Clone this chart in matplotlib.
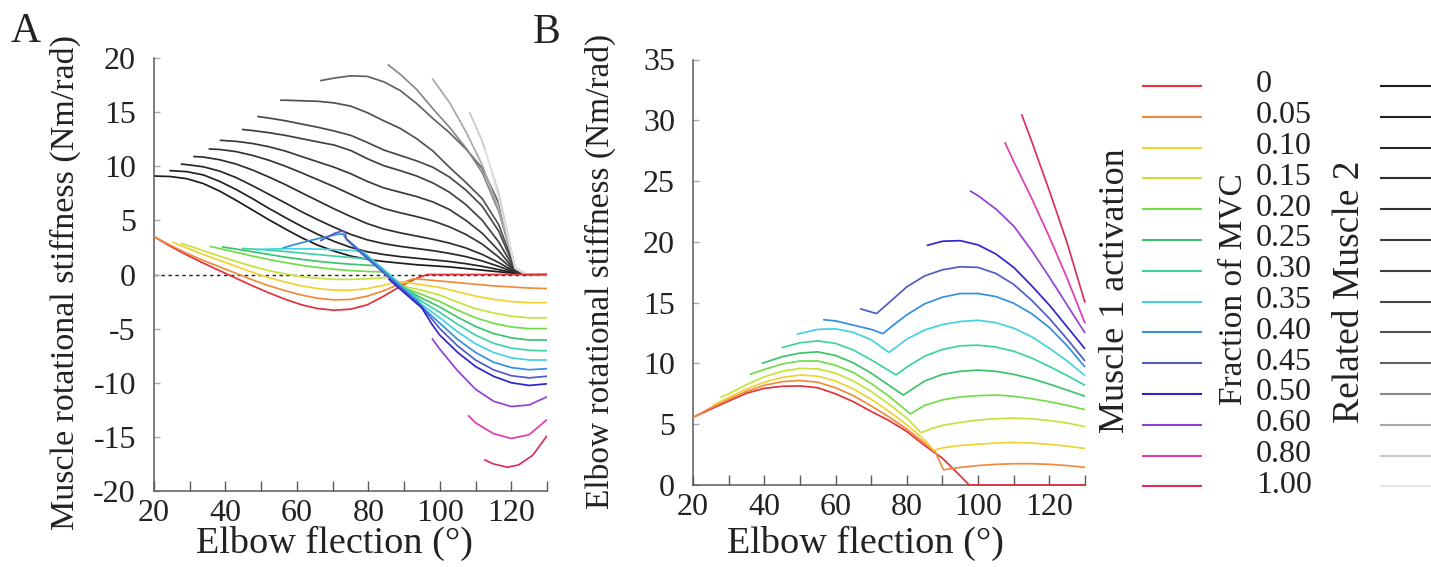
import numpy as np
import matplotlib
matplotlib.use("Agg")
import matplotlib.pyplot as plt

plt.rcParams['font.family'] = ['Liberation Serif', 'DejaVu Serif']

# ---------------- data ----------------
ACT_LABELS = ['0', '0.05', '0.10', '0.15', '0.20', '0.25', '0.30', '0.35',
              '0.40', '0.45', '0.50', '0.60', '0.80', '1.00']
ACT_COLORS = ['#e2323c', '#f08a3c', '#f2d232', '#c6e23c', '#72dc4a', '#3cc46a',
              '#3ed2a6', '#44d2e0', '#3390e0', '#4f5cc4', '#3024cc', '#9440d4',
              '#e03cb4', '#d8305e']
GREYS = ['#1c1c1c', '#222222', '#282828', '#2e2e2e', '#343434', '#3a3a3a', '#404040',
         '#484848', '#525252', '#626262', '#888888', '#a8a8a8', '#c8c8c8', '#e4e4e4']

# Panel A - related muscle 2 (grey) curves
A_GREY = [
    [(20,9.1),(24.6,9.05),(29.2,8.85),(33.8,8.4),(38.4,7.7),(43.0,6.85),(47.6,5.95),(52.2,5.05),(56.8,4.2),(61.3,3.4),(65.9,2.7),(70.5,2.15),(75.1,1.7),(79.7,1.4),(84.3,1.2),(88.9,1.05),(93.5,0.9),(98.1,0.8),(102.7,0.7),(107.3,0.55),(111.9,0.4),(116.5,0.25),(121.1,0.1),(124,0.03),(130,0)],
    [(24.3,9.6),(29.2,9.5),(33.8,9.2),(38.4,8.6),(43.0,7.85),(47.6,7.0),(52.2,6.1),(56.8,5.25),(61.3,4.45),(65.9,3.7),(70.5,3.05),(75.1,2.5),(79.7,2.1),(84.3,1.85),(88.9,1.65),(93.5,1.5),(98.1,1.35),(102.7,1.2),(107.3,1.0),(111.9,0.75),(116.5,0.45),(121.1,0.12),(124,0.03),(130,0)],
    [(27.5,10.2),(29.2,10.15),(33.8,9.95),(38.4,9.55),(43.0,8.95),(47.6,8.2),(52.2,7.4),(56.8,6.6),(61.3,5.8),(65.9,5.05),(70.5,4.35),(75.1,3.7),(79.7,3.2),(84.3,2.85),(88.9,2.6),(93.5,2.4),(98.1,2.2),(102.7,1.95),(107.3,1.65),(111.9,1.25),(116.5,0.75),(121.1,0.18),(124,0.03),(130,0)],
    [(31.0,10.9),(33.8,10.85),(38.4,10.6),(43.0,10.2),(47.6,9.65),(52.2,9.0),(56.8,8.3),(61.3,7.55),(65.9,6.8),(70.5,6.05),(75.1,5.35),(79.7,4.7),(84.3,4.2),(88.9,3.85),(93.5,3.55),(98.1,3.25),(102.7,2.9),(107.3,2.45),(111.9,1.85),(116.5,1.1),(121.1,0.22),(124,0.03),(130,0)],
    [(35.3,11.6),(38.4,11.55),(43.0,11.35),(47.6,11.0),(52.2,10.55),(56.8,10.0),(61.3,9.4),(65.9,8.75),(70.5,8.1),(75.1,7.4),(79.7,6.7),(84.3,6.1),(88.9,5.7),(93.5,5.35),(98.1,4.95),(102.7,4.4),(107.3,3.7),(111.9,2.8),(116.5,1.6),(121.1,0.28),(124,0.03),(130,0)],
    [(38.4,12.4),(43.0,12.3),(47.6,12.1),(52.2,11.8),(56.8,11.4),(61.3,10.9),(65.9,10.4),(70.5,9.9),(75.1,9.3),(79.7,8.6),(84.3,8.0),(88.9,7.6),(93.5,7.2),(98.1,6.7),(102.7,6.0),(107.3,5.0),(111.9,3.8),(116.5,2.2),(121.1,0.32),(124,0.03),(130,0)],
    [(44.6,13.4),(47.6,13.3),(52.2,13.1),(56.8,12.85),(61.3,12.55),(65.9,12.25),(70.5,11.95),(75.1,11.45),(79.7,10.7),(84.3,10.05),(88.9,9.6),(93.5,9.1),(98.1,8.45),(102.7,7.6),(107.3,6.45),(111.9,5.0),(116.5,3.0),(121.1,0.38),(124,0.03),(130,0)],
    [(48.9,14.6),(52.2,14.45),(56.8,14.2),(61.3,13.9),(65.9,13.6),(70.5,13.25),(75.1,12.85),(79.7,12.2),(84.3,11.5),(88.9,11.0),(93.5,10.5),(98.1,9.9),(102.7,9.0),(107.3,7.8),(111.9,6.3),(116.5,4.0),(121.1,0.45),(124,0.03),(130,0)],
    [(55.3,16.1),(56.8,16.1),(61.3,16.05),(65.9,16.0),(70.5,15.85),(75.1,15.55),(79.7,14.95),(84.3,14.2),(88.9,13.5),(93.5,12.55),(98.1,11.4),(102.7,9.9),(107.3,8.5),(111.9,7.0),(116.5,4.6),(121.1,0.5),(124,0.03),(130,0)],
    [(66.5,17.9),(70.5,18.15),(75.1,18.35),(79.7,18.3),(84.3,17.8),(88.9,17.0),(93.5,15.8),(98.1,14.4),(102.7,13.1),(107.3,11.6),(111.9,9.8),(116.5,6.6),(121.1,0.6),(124,0.03),(130,0)],
    [(85.4,19.4),(88.9,18.5),(93.5,17.1),(98.1,15.3),(102.7,13.6),(107.3,11.7),(111.9,9.4),(116.5,5.8),(121.1,0.6),(124,0.03),(130,0)],
    [(97.9,18.1),(102.7,15.9),(107.3,13.2),(111.9,10.1),(116.5,6.0),(121.1,0.6),(124,0.03),(130,0)],
    [(108.3,15.0),(111.9,12.3),(116.5,7.5),(121.1,0.6),(124,0.03),(130,0)],
    [(112.8,11.5),(116.5,7.0),(121.1,0.6),(124,0.03),(130,0)],
]

# Panel A - muscle 1 (coloured) curves
A_COL = [
    [(20,3.5),(24.6,2.6),(29.2,1.8),(33.8,1.05),(38.4,0.35),(43,-0.35),(47.6,-1.05),(52.2,-1.7),(56.8,-2.3),(61.3,-2.8),(65.9,-3.15),(70.5,-3.3),(75.1,-3.2),(79.7,-2.8),(84.3,-2.0),(88.9,-1.1),(93.5,-0.35),(96.5,0),(130,0)],
    [(20,3.5),(24.6,2.7),(29.2,1.95),(33.8,1.3),(38.4,0.7),(43,0.1),(47.6,-0.5),(52.2,-1.05),(56.8,-1.5),(61.3,-1.9),(65.9,-2.2),(70.5,-2.35),(75.1,-2.3),(79.7,-2.0),(84.3,-1.5),(88.9,-0.85),(92.5,-0.4),(95,-0.45),(100,-0.6),(105,-0.75),(110,-0.9),(115,-1.05),(120,-1.15),(125,-1.25),(130,-1.3)],
    [(25.1,3.0),(29.2,2.45),(33.8,1.85),(38.4,1.3),(43,0.75),(47.6,0.2),(52.2,-0.3),(56.8,-0.7),(61.3,-1.05),(65.9,-1.3),(70.5,-1.45),(75.1,-1.45),(79.7,-1.3),(84.3,-1.0),(88,-0.65),(91,-0.75),(95,-0.95),(100,-1.2),(105,-1.6),(110,-2.0),(115,-2.3),(120,-2.5),(125,-2.6),(130,-2.6)],
    [(27.5,2.9),(29.2,2.7),(33.8,2.2),(38.4,1.7),(43,1.2),(47.6,0.75),(52.2,0.35),(56.8,0.05),(61.3,-0.2),(65.9,-0.35),(70.5,-0.45),(75.1,-0.45),(79.7,-0.4),(84.3,-0.3),(86.5,-0.2),(89.5,-1.07),(95,-1.45),(100,-1.9),(105,-2.55),(110,-3.15),(115,-3.55),(120,-3.85),(125,-4.0),(130,-4.0)],
    [(35.5,2.6),(38.4,2.4),(43,2.05),(47.6,1.7),(52.2,1.38),(56.8,1.1),(61.3,0.85),(65.9,0.65),(70.5,0.48),(75.1,0.36),(79.7,0.28),(85,0.23),(90,-1.22),(95,-1.85),(100,-2.5),(105,-3.3),(110,-4.0),(115,-4.5),(120,-4.85),(125,-5.0),(130,-5.0)],
    [(39,2.55),(43,2.35),(47.6,2.1),(52.2,1.85),(56.8,1.6),(61.3,1.4),(65.9,1.22),(70.5,1.07),(75.1,0.95),(79.7,0.86),(83,0.81),(90.5,-1.37),(95,-2.2),(100,-3.0),(105,-3.95),(110,-4.8),(115,-5.45),(120,-5.85),(125,-6.05),(130,-6.05)],
    [(44.5,2.4),(47.6,2.35),(52.2,2.25),(56.8,2.12),(61.3,1.98),(65.9,1.84),(70.5,1.7),(75.1,1.57),(81,1.39),(91,-1.51),(95,-2.5),(100,-3.5),(105,-4.6),(110,-5.6),(115,-6.35),(120,-6.8),(125,-7.0),(130,-7.05)],
    [(48.5,2.3),(52.2,2.35),(56.8,2.38),(61.3,2.38),(65.9,2.35),(70.5,2.3),(75.1,2.22),(78.5,2.12),(92,-1.8),(95,-2.8),(100,-4.0),(105,-5.3),(110,-6.4),(115,-7.2),(120,-7.7),(125,-7.9),(130,-7.9)],
    [(56,2.45),(59.2,2.75),(63.8,3.15),(68.4,3.5),(71.2,3.7),(73,3.75),(73.5,3.42),(78.5,1.97),(85,0.08),(90,-1.37),(93.5,-2.39),(96,-3.3),(100,-4.5),(105,-6.0),(110,-7.2),(115,-8.1),(120,-8.6),(125,-8.8),(130,-8.7)],
    [(66.5,3.1),(68.5,3.45),(70.5,3.8),(72.5,4.0),(73.5,3.95),(73.8,3.25),(78.5,1.82),(85,-0.07),(90,-1.52),(94.5,-2.83),(97,-3.8),(100,-5.0),(105,-6.6),(110,-7.9),(115,-8.8),(120,-9.35),(125,-9.55),(130,-9.4)],
    [(85.6,-0.4),(90,-1.67),(95,-3.1),(97.8,-4.6),(100,-5.6),(105,-7.2),(110,-8.5),(115,-9.4),(120,-10.0),(125,-10.25),(130,-10.1)],
    [(97.8,-5.9),(100,-6.9),(105,-8.9),(110,-10.6),(115,-11.7),(120,-12.2),(125,-12.05),(130,-11.3)],
    [(107.9,-13.0),(110,-13.7),(115,-14.7),(120,-15.15),(125,-14.8),(130,-13.4)],
    [(112.4,-17.1),(115,-17.5),(118.9,-17.8),(122,-17.6),(126,-16.7),(130,-14.9)],
]

# Panel B - elbow stiffness curves
B_COL = [
    [(20,5.56),(25,6.25),(30,6.9),(35,7.55),(40,7.95),(45,8.12),(50,8.15),(55,8.0),(60,7.5),(65,6.85),(70,6.05),(75,5.3),(80,4.4),(85,3.25),(90,2.2),(95,0.75),(97.5,0),(130,0)],
    [(20,5.56),(25,6.35),(30,7.05),(35,7.7),(40,8.2),(45,8.5),(50,8.6),(55,8.45),(60,8.0),(65,7.35),(70,6.5),(75,5.6),(80,4.6),(85,3.45),(88,2.7),(90.3,1.25),(95,1.45),(100,1.6),(105,1.7),(110,1.75),(115,1.75),(120,1.7),(125,1.6),(130,1.45)],
    [(25.5,6.55),(30,7.2),(35,7.9),(40,8.45),(45,8.85),(50,9.05),(55,8.95),(60,8.55),(65,7.9),(70,7.05),(75,6.05),(80,4.95),(85,3.7),(87.6,2.85),(90,3.05),(95,3.25),(100,3.35),(105,3.45),(110,3.5),(115,3.45),(120,3.35),(125,3.2),(130,3.0)],
    [(27.7,7.2),(30,7.5),(35,8.25),(40,8.9),(45,9.35),(50,9.6),(55,9.55),(60,9.2),(65,8.55),(70,7.7),(75,6.65),(80,5.5),(84,4.3),(87,4.65),(90,4.9),(95,5.15),(100,5.35),(105,5.45),(110,5.5),(115,5.45),(120,5.3),(125,5.1),(130,4.8)],
    [(36,9.1),(40,9.5),(45,9.95),(50,10.2),(55,10.2),(60,9.85),(65,9.25),(70,8.35),(75,7.3),(81,5.85),(85,6.55),(90,7.0),(95,7.25),(100,7.35),(105,7.4),(110,7.3),(115,7.1),(120,6.85),(125,6.55),(130,6.2)],
    [(39.3,10.0),(45,10.55),(50,10.85),(55,10.95),(60,10.65),(65,10.05),(70,9.2),(75,8.2),(79,7.4),(85,8.55),(90,9.1),(95,9.35),(100,9.45),(105,9.35),(110,9.1),(115,8.75),(120,8.3),(125,7.8),(130,7.3)],
    [(44.9,11.3),(50,11.7),(55,11.85),(60,11.65),(65,11.1),(70,10.3),(77,9.05),(80,9.7),(85,10.6),(90,11.15),(95,11.45),(100,11.5),(105,11.35),(110,11.0),(115,10.45),(120,9.75),(125,9.0),(130,8.2)],
    [(49.1,12.4),(55,12.8),(60,12.85),(65,12.55),(70,11.95),(75,10.9),(80,12.0),(85,12.75),(90,13.2),(95,13.45),(100,13.55),(105,13.35),(110,12.9),(115,12.2),(120,11.25),(125,10.2),(130,9.0)],
    [(56.5,13.6),(60,13.5),(65,13.15),(70,12.8),(73.3,12.45),(76,13.1),(80,14.0),(85,14.9),(90,15.45),(95,15.75),(100,15.75),(105,15.5),(110,14.95),(115,14.1),(120,12.95),(125,11.45),(130,9.7)],
    [(66.9,14.5),(71.5,14.1),(75,15.0),(80,16.3),(85,17.2),(90,17.7),(95,17.95),(100,17.9),(105,17.4),(110,16.5),(115,15.2),(120,13.7),(125,12.0),(130,10.2)],
    [(85.6,19.7),(90,20.05),(95,20.1),(100,19.75),(105,19.0),(110,17.9),(115,16.4),(120,14.8),(125,13.0),(130,11.2)],
    [(97.7,24.2),(100,23.8),(105,22.7),(110,21.3),(115,19.3),(120,17.1),(125,14.8),(130,12.5)],
    [(107.5,28.2),(110,26.6),(115,23.6),(120,20.4),(125,17.0),(130,13.3)],
    [(112.2,30.5),(115,28.3),(120,24.2),(125,19.9),(130,15.0)],
]

X_TICKS = list(range(20, 131, 10))
X_LABELS = ['20', '', '40', '', '60', '', '80', '', '100', '', '120', '']
A_YTICKS = [-20, -15, -10, -5, 0, 5, 10, 15, 20]
B_YTICKS = [0, 5, 10, 15, 20, 25, 30, 35]

# ---------------- figure ----------------
W, H = 1431, 567
fig = plt.figure(figsize=(W / 100, H / 100), dpi=100)

def frac(l, t, r, b):
    return [l / W, 1 - b / H, (r - l) / W, (b - t) / H]

axA = fig.add_axes(frac(154, 58, 547, 491))
axB = fig.add_axes(frac(693, 59.5, 1085, 485))

SPINE = '#5a5a5a'
TXT = '#222222'

def style(ax, yticks, ylim):
    for s in ('top', 'right'):
        ax.spines[s].set_visible(False)
    for s in ('left', 'bottom'):
        ax.spines[s].set_color(SPINE)
        ax.spines[s].set_linewidth(1.1)
    ax.set_xlim(20, 130)
    ax.set_ylim(*ylim)
    ax.set_xticks(X_TICKS)
    ax.set_xticklabels(X_LABELS)
    ax.set_yticks(yticks)
    ax.set_yticklabels([str(v) for v in yticks])
    ax.tick_params(axis='x', direction='in', length=7, width=1.0, color=SPINE,
                   labelsize=23, labelcolor=TXT, pad=6)
    ax.tick_params(axis='y', direction='in', length=4, width=1.0, color='#aaaaaa',
                   labelsize=23, labelcolor=TXT, pad=13)
    ax.patch.set_alpha(0)

style(axA, A_YTICKS, (-20, 20))
style(axB, B_YTICKS, (0, 35))

axA.plot([20, 130], [0, 0], ls=(0, (2.5, 2.5)), color='#222222', lw=1.0, zorder=1)
for pts, c in zip(A_GREY, GREYS):
    xs, ys = zip(*pts)
    axA.plot(xs, ys, color=c, lw=1.25, zorder=2, solid_capstyle='butt')
for pts, c in zip(A_COL, ACT_COLORS):
    xs, ys = zip(*pts)
    axA.plot(xs, ys, color=c, lw=1.25, zorder=3, solid_capstyle='butt')
for pts, c in zip(B_COL, ACT_COLORS):
    xs, ys = zip(*pts)
    axB.plot(xs, ys, color=c, lw=1.25, zorder=3, clip_on=False, solid_capstyle='butt')

axA.set_ylabel('Muscle rotational stiffness (Nm/rad)', fontsize=24.5, color=TXT, va='center')
axA.yaxis.set_label_coords((65 - 154) / 393, 1 - (282 - 58) / 433)
axA.set_xlabel('Elbow flection (°)', fontsize=27.5, color=TXT, va='center')
axA.xaxis.set_label_coords((334 - 154) / 393, -(543 - 491) / 433)

axB.set_ylabel('Elbow rotational stiffness (Nm/rad)', fontsize=24, color=TXT, va='center')
axB.yaxis.set_label_coords((600 - 693) / 392, 1 - (271 - 59.5) / 425.5)
axB.set_xlabel('Elbow flection (°)', fontsize=27.5, color=TXT, va='center')
axB.xaxis.set_label_coords((865 - 693) / 392, -(543 - 485) / 425.5)

# ---------------- legend / annotations ----------------
lax = fig.add_axes([0, 0, 1, 1])
lax.set_xlim(0, W)
lax.set_ylim(H, 0)
lax.axis('off')
lax.patch.set_alpha(0)

lax.text(11, 42, 'A', fontsize=30, color=TXT, ha='left', va='baseline')
lax.text(533, 43, 'B', fontsize=30, color=TXT, ha='left', va='baseline')

y0, dy = 86, 30.8
for i, (lab, c, g) in enumerate(zip(ACT_LABELS, ACT_COLORS, GREYS)):
    y = y0 + i * dy
    lax.plot([1142, 1202], [y, y], color=c, lw=1.5, solid_capstyle='butt')
    lax.plot([1380, 1431], [y, y], color=g, lw=1.5, solid_capstyle='butt')
    lax.text(1256, y - 1, lab, fontsize=23, color=TXT, ha='left', va='center')

lax.text(1115, 291, 'Muscle 1 activation', fontsize=26, color=TXT, rotation=90,
         ha='center', va='center')
lax.text(1233, 289, 'Fraction of MVC', fontsize=24, color=TXT, rotation=90,
         ha='center', va='center')
lax.text(1350, 292, 'Related Muscle 2', fontsize=27, color=TXT, rotation=90,
         ha='center', va='center')

fig.savefig('out.png', dpi=100)
